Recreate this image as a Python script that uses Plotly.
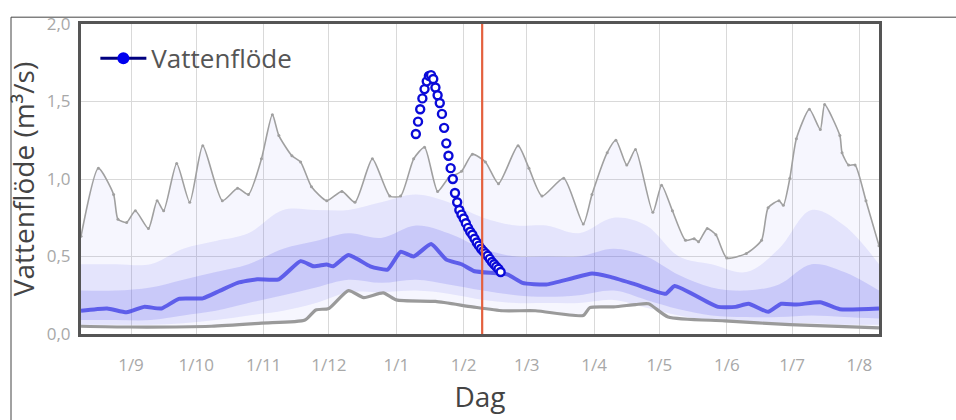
import plotly.graph_objects as go

# ---------------- data ----------------
month_ticks = ["2023-09-01", "2023-10-01", "2023-11-01", "2023-12-01", "2024-01-01", "2024-02-01",
               "2024-03-01", "2024-04-01", "2024-05-01", "2024-06-01", "2024-07-01", "2024-08-01"]
month_labels = ["1/9", "1/10", "1/11", "1/12", "1/1", "1/2", "1/3", "1/4", "1/5", "1/6", "1/7", "1/8"]
y_ticks = [0.0, 0.5, 1.0, 1.5, 2.0]

max_dates = ["2023-08-09", "2023-08-17", "2023-08-24", "2023-08-26", "2023-08-30", "2023-09-03", "2023-09-09",
             "2023-09-13", "2023-09-16", "2023-09-22", "2023-09-28", "2023-10-04", "2023-10-13", "2023-10-20",
             "2023-10-25", "2023-10-31", "2023-11-05", "2023-11-08", "2023-11-14", "2023-11-18", "2023-11-23",
             "2023-11-30", "2023-12-07", "2023-12-13", "2023-12-21", "2023-12-29", "2024-01-03", "2024-01-09",
             "2024-01-14", "2024-01-20", "2024-01-25", "2024-01-31", "2024-02-05", "2024-02-11", "2024-02-17",
             "2024-02-26", "2024-03-02", "2024-03-08", "2024-03-18", "2024-03-27", "2024-03-31", "2024-04-07",
             "2024-04-11", "2024-04-16", "2024-04-20", "2024-04-28", "2024-05-02", "2024-05-07", "2024-05-13",
             "2024-05-17", "2024-05-19", "2024-05-23", "2024-05-27", "2024-06-01", "2024-06-10", "2024-06-17",
             "2024-06-20", "2024-06-25", "2024-06-27", "2024-06-30", "2024-07-03", "2024-07-09", "2024-07-14",
             "2024-07-16", "2024-07-23", "2024-07-24", "2024-07-27", "2024-07-30", "2024-08-04", "2024-08-10"]
max_values = [0.63, 1.07, 0.90, 0.74, 0.72, 0.795, 0.68,
              0.86, 0.795, 1.10, 0.85, 1.215, 0.86, 0.94,
              0.90, 1.13, 1.415, 1.28, 1.15, 1.11, 0.95,
              0.86, 0.92, 0.85, 1.13, 0.89, 0.89, 1.13,
              1.205, 0.92, 1.005, 1.05, 1.16, 1.11, 0.97,
              1.215, 1.07, 0.89, 1.005, 0.71, 0.90, 1.17,
              1.25, 1.09, 1.19, 0.785, 0.96, 0.795, 0.605,
              0.615, 0.595, 0.68, 0.64, 0.49, 0.52, 0.605,
              0.815, 0.86, 0.83, 1.005, 1.26, 1.45, 1.32,
              1.48, 1.28, 1.17, 1.09, 1.09, 0.86, 0.57]

min_dates = ["2023-08-09", "2023-08-31", "2023-10-08", "2023-10-31", "2023-11-20", "2023-11-25", "2023-12-01",
             "2023-12-10", "2023-12-17", "2023-12-26", "2024-01-01", "2024-01-19", "2024-02-05", "2024-02-19",
             "2024-03-05", "2024-03-27", "2024-03-30", "2024-04-10", "2024-04-20", "2024-04-26", "2024-05-05",
             "2024-05-31", "2024-06-30", "2024-08-10"]
min_values = [0.05, 0.045, 0.05, 0.07, 0.09, 0.155, 0.165,
              0.28, 0.235, 0.265, 0.22, 0.21, 0.175, 0.15,
              0.15, 0.12, 0.17, 0.175, 0.19, 0.195, 0.11,
              0.085, 0.06, 0.04]

median_dates = ["2023-08-09", "2023-08-21", "2023-08-30", "2023-09-07", "2023-09-15", "2023-09-23", "2023-10-04",
                "2023-10-12", "2023-10-20", "2023-10-29", "2023-11-08", "2023-11-18", "2023-11-24", "2023-11-30",
                "2023-12-03", "2023-12-10", "2023-12-20", "2023-12-28", "2024-01-03", "2024-01-09", "2024-01-17",
                "2024-01-24", "2024-01-31", "2024-02-06", "2024-02-21", "2024-02-28", "2024-03-10", "2024-03-22",
                "2024-03-31", "2024-04-08", "2024-04-20", "2024-05-04", "2024-05-08", "2024-05-28", "2024-06-05",
                "2024-06-11", "2024-06-20", "2024-06-26", "2024-07-03", "2024-07-14", "2024-07-23", "2024-08-10"]
median_values = [0.15, 0.165, 0.14, 0.175, 0.165, 0.227, 0.23,
                 0.28, 0.33, 0.353, 0.353, 0.47, 0.437, 0.448,
                 0.437, 0.51, 0.437, 0.416, 0.53, 0.50, 0.58,
                 0.48, 0.45, 0.405, 0.385, 0.33, 0.32, 0.36,
                 0.39, 0.37, 0.32, 0.26, 0.31, 0.175, 0.175,
                 0.195, 0.143, 0.195, 0.19, 0.205, 0.16, 0.165]

band_dates = ["2023-08-09", "2023-08-25", "2023-09-10", "2023-09-25", "2023-10-10", "2023-10-25", "2023-11-10",
              "2023-11-25", "2023-12-10", "2023-12-25", "2024-01-10", "2024-01-25", "2024-02-10", "2024-02-25",
              "2024-03-10", "2024-03-25", "2024-04-10", "2024-04-25", "2024-05-10", "2024-05-25", "2024-06-10",
              "2024-06-25", "2024-07-10", "2024-07-25", "2024-08-10"]
p90_values = [0.45, 0.45, 0.45, 0.55, 0.60, 0.65, 0.80, 0.80, 0.80, 0.85, 0.90, 0.85, 0.75, 0.70,
              0.70, 0.65, 0.75, 0.70, 0.50, 0.45, 0.40, 0.55, 0.80, 0.70, 0.45]
p75_values = [0.28, 0.28, 0.30, 0.35, 0.40, 0.45, 0.55, 0.60, 0.65, 0.62, 0.70, 0.65, 0.55, 0.50,
              0.50, 0.50, 0.55, 0.50, 0.38, 0.30, 0.28, 0.32, 0.45, 0.40, 0.28]
p25_values = [0.09, 0.09, 0.09, 0.12, 0.15, 0.20, 0.25, 0.30, 0.35, 0.33, 0.35, 0.32, 0.28, 0.25,
              0.24, 0.25, 0.28, 0.22, 0.16, 0.12, 0.11, 0.11, 0.12, 0.11, 0.10]
p10_values = [0.06, 0.06, 0.06, 0.07, 0.09, 0.12, 0.15, 0.20, 0.27, 0.27, 0.28, 0.26, 0.22, 0.20,
              0.20, 0.20, 0.22, 0.17, 0.12, 0.09, 0.08, 0.07, 0.07, 0.06, 0.06]

flow_dates = ["2024-01-10", "2024-01-11", "2024-01-12", "2024-01-13", "2024-01-14", "2024-01-15", "2024-01-16",
              "2024-01-17", "2024-01-18", "2024-01-19", "2024-01-20", "2024-01-21", "2024-01-22", "2024-01-23",
              "2024-01-24", "2024-01-25", "2024-01-26", "2024-01-27", "2024-01-28", "2024-01-29", "2024-01-30",
              "2024-01-31", "2024-02-01", "2024-02-02", "2024-02-03", "2024-02-04", "2024-02-05", "2024-02-06",
              "2024-02-07", "2024-02-08", "2024-02-09", "2024-02-10", "2024-02-11", "2024-02-12", "2024-02-13",
              "2024-02-14", "2024-02-15", "2024-02-16", "2024-02-17", "2024-02-18"]
flow_values = [1.29, 1.37, 1.45, 1.52, 1.58, 1.63, 1.665,
               1.67, 1.645, 1.59, 1.54, 1.49, 1.42, 1.33,
               1.23, 1.15, 1.07, 1.00, 0.91, 0.85, 0.80,
               0.77, 0.745, 0.715, 0.685, 0.66, 0.64, 0.615,
               0.59, 0.57, 0.55, 0.535, 0.52, 0.505, 0.485,
               0.465, 0.45, 0.435, 0.42, 0.40]

today = "2024-02-09 12:00"
x_range = ["2023-08-09", "2024-08-10"]

# ---------------- figure ----------------
fig = go.Figure()
band = "rgba(95,95,240,{})"

fig.add_trace(go.Scatter(x=max_dates, y=max_values, mode="lines", line=dict(width=0, shape="spline"),
                         showlegend=False, hoverinfo="skip"))
fig.add_trace(go.Scatter(x=min_dates, y=min_values, mode="lines", line=dict(width=0, shape="spline"),
                         fill="tonexty", fillcolor=band.format(0.06), showlegend=False, hoverinfo="skip"))
fig.add_trace(go.Scatter(x=band_dates, y=p90_values, mode="lines", line=dict(width=0, shape="spline"),
                         showlegend=False, hoverinfo="skip"))
fig.add_trace(go.Scatter(x=band_dates, y=p10_values, mode="lines", line=dict(width=0, shape="spline"),
                         fill="tonexty", fillcolor=band.format(0.12), showlegend=False, hoverinfo="skip"))
fig.add_trace(go.Scatter(x=band_dates, y=p75_values, mode="lines", line=dict(width=0, shape="spline"),
                         showlegend=False, hoverinfo="skip"))
fig.add_trace(go.Scatter(x=band_dates, y=p25_values, mode="lines", line=dict(width=0, shape="spline"),
                         fill="tonexty", fillcolor=band.format(0.2), showlegend=False, hoverinfo="skip"))

fig.add_trace(go.Scatter(x=max_dates, y=max_values, mode="lines+markers",
                         line=dict(color="#a0a0a0", width=1.6, shape="spline", smoothing=0.6),
                         marker=dict(size=3, color="#a0a0a0"), showlegend=False))
fig.add_trace(go.Scatter(x=min_dates, y=min_values, mode="lines",
                         line=dict(color="#9a9a9a", width=3.2, shape="spline", smoothing=0.6),
                         showlegend=False))
fig.add_trace(go.Scatter(x=median_dates, y=median_values, mode="lines",
                         line=dict(color="rgba(75,75,232,0.85)", width=4, shape="spline", smoothing=0.5),
                         showlegend=False))

fig.add_trace(go.Scatter(x=flow_dates, y=flow_values, mode="markers",
                         marker=dict(symbol="circle", size=8, color="white",
                                     line=dict(color="#0a0ad8", width=2.4)),
                         showlegend=False))
fig.add_trace(go.Scatter(x=[None], y=[None], mode="lines+markers", name="Vattenflöde",
                         line=dict(color="#000080", width=3),
                         marker=dict(size=12, color="#0000ee")))

fig.add_shape(type="line", xref="x", yref="paper", x0=today, x1=today, y0=0, y1=1,
              line=dict(color="#e4603e", width=2.2))

# outer frame lines (top and left)
fig.add_shape(type="line", xref="paper", yref="paper", x0=-0.0877, x1=1.1, y0=1.022, y1=1.022,
              line=dict(color="#444", width=1))
fig.add_shape(type="line", xref="paper", yref="paper", x0=-0.0877, x1=-0.0877, y0=1.022, y1=-0.3,
              line=dict(color="#444", width=1))

fig.update_layout(
    width=956, height=420,
    margin=dict(l=81, r=77, t=19, b=84),
    paper_bgcolor="white", plot_bgcolor="white",
    separators=", ",
    font=dict(family="Open Sans, sans-serif", color="#555"),
    legend=dict(x=0.018, y=0.965, xanchor="left", yanchor="top", bgcolor="rgba(0,0,0,0)",
                font=dict(size=26, color="#555"), itemwidth=46),
    xaxis=dict(type="date", range=x_range, tickvals=month_ticks, ticktext=month_labels,
               showgrid=True, gridcolor="#d9d9d9", gridwidth=1,
               showline=True, mirror=True, linecolor="#555", linewidth=3,
               ticks="", tickfont=dict(size=17, color="#a8a8a8"), ticklabelstandoff=14,
               title=dict(text="Dag", font=dict(size=28, color="#444"), standoff=12),
               zeroline=False),
    yaxis=dict(range=[0, 2.0], tickvals=y_ticks, tickformat=".1f",
               showgrid=True, gridcolor="#d9d9d9", gridwidth=1,
               showline=True, mirror=True, linecolor="#555", linewidth=3,
               ticks="", tickfont=dict(size=17, color="#a8a8a8"), ticklabelstandoff=4,
               title=dict(text="Vattenflöde (m³/s)", font=dict(size=28, color="#444"), standoff=4),
               zeroline=False),
)

fig.write_html("out.html", config={"displayModeBar": False},
               post_script="document.body.style.margin='0px';")
